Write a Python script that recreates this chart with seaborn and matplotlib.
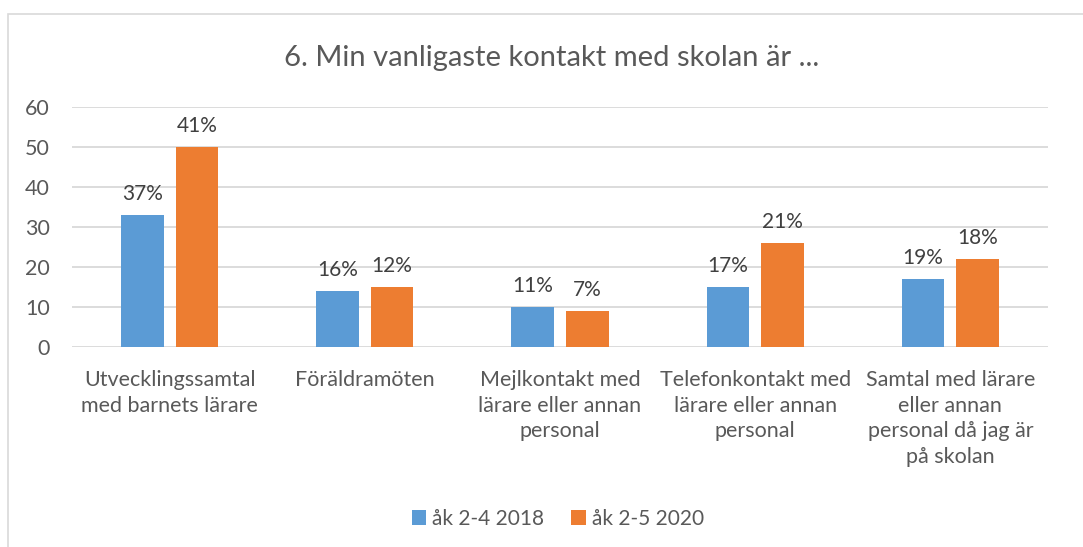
import matplotlib
matplotlib.use("Agg")
import matplotlib.pyplot as plt
import seaborn as sns
import pandas as pd
from matplotlib.patches import Rectangle

categories = [
    "Utvecklingssamtal\nmed barnets lärare",
    "Föräldramöten",
    "Mejlkontakt med\nlärare eller annan\npersonal",
    "Telefonkontakt med\nlärare eller annan\npersonal",
    "Samtal med lärare\neller annan\npersonal då jag är\npå skolan",
]
series_names = ["åk 2-4 2018", "åk 2-5 2020"]
values_2018 = [33, 14, 10, 15, 17]
values_2020 = [50, 15, 9, 26, 22]
labels_2018 = ["37%", "16%", "11%", "17%", "19%"]
labels_2020 = ["41%", "12%", "7%", "21%", "18%"]
yticks = [0, 10, 20, 30, 40, 50, 60]
title = "6. Min vanligaste kontakt med skolan är ..."

sns.set_theme(style="white")
plt.rcParams["font.family"] = ["Lato", "DejaVu Sans"]

df = pd.DataFrame({
    "cat": categories * 2,
    "series": [series_names[0]] * 5 + [series_names[1]] * 5,
    "value": values_2018 + values_2020,
})

W, H = 1083, 547
fig = plt.figure(figsize=(W / 100, H / 100), dpi=100)
fig.patch.set_facecolor("white")
# chart frame
fig.patches.append(Rectangle((8 / W, -0.1), 1.2, 1 - 14 / H + 0.1, transform=fig.transFigure,
                             fill=False, edgecolor="#D9D9D9", linewidth=1.2))

left, right, top, bottom = 72 / W, 1048 / W, 106.7 / H, 346.7 / H
ax = fig.add_axes([left, 1 - bottom, right - left, bottom - top])

palette = {series_names[0]: "#5B9BD5", series_names[1]: "#ED7D31"}
sns.barplot(data=df, x="cat", y="value", hue="series", palette=palette, ax=ax,
            width=0.56, gap=0.22, saturation=1, legend=True, edgecolor="none")

ax.set_ylim(0, 60)
ax.set_yticks(yticks)
ax.set_xlim(-0.5, 4.5)
ax.yaxis.grid(True, color="#D9D9D9", linewidth=1.3)
ax.set_axisbelow(True)
for s in ax.spines.values():
    s.set_visible(False)
ax.set_xlabel("")
ax.set_ylabel("")
ax.tick_params(axis="y", length=0, pad=16, labelsize=15.5, labelcolor="#595959")
ax.tick_params(axis="x", length=0, pad=17, labelsize=15.5, labelcolor="#595959")
for t in ax.get_xticklabels():
    t.set_multialignment("center")
    t.set_linespacing(1.34)

for cont, labs in zip(ax.containers, [labels_2018, labels_2020]):
    ax.bar_label(cont, labels=labs, padding=8, fontsize=15, color="#404040")

handles, lbls = ax.get_legend_handles_labels()
ax.get_legend().remove()
fig.legend(handles, lbls, loc="center", bbox_to_anchor=(558 / W, 1 - 519 / H), ncol=2,
           frameon=False, fontsize=15, labelcolor="#595959", handlelength=0.7,
           handleheight=0.7, handletextpad=0.3, columnspacing=1.3)

fig.text(552 / W, 1 - 58 / H, title, ha="center", va="center", fontsize=21, color="#595959")

fig.savefig("out.png", dpi=100, facecolor="white")
